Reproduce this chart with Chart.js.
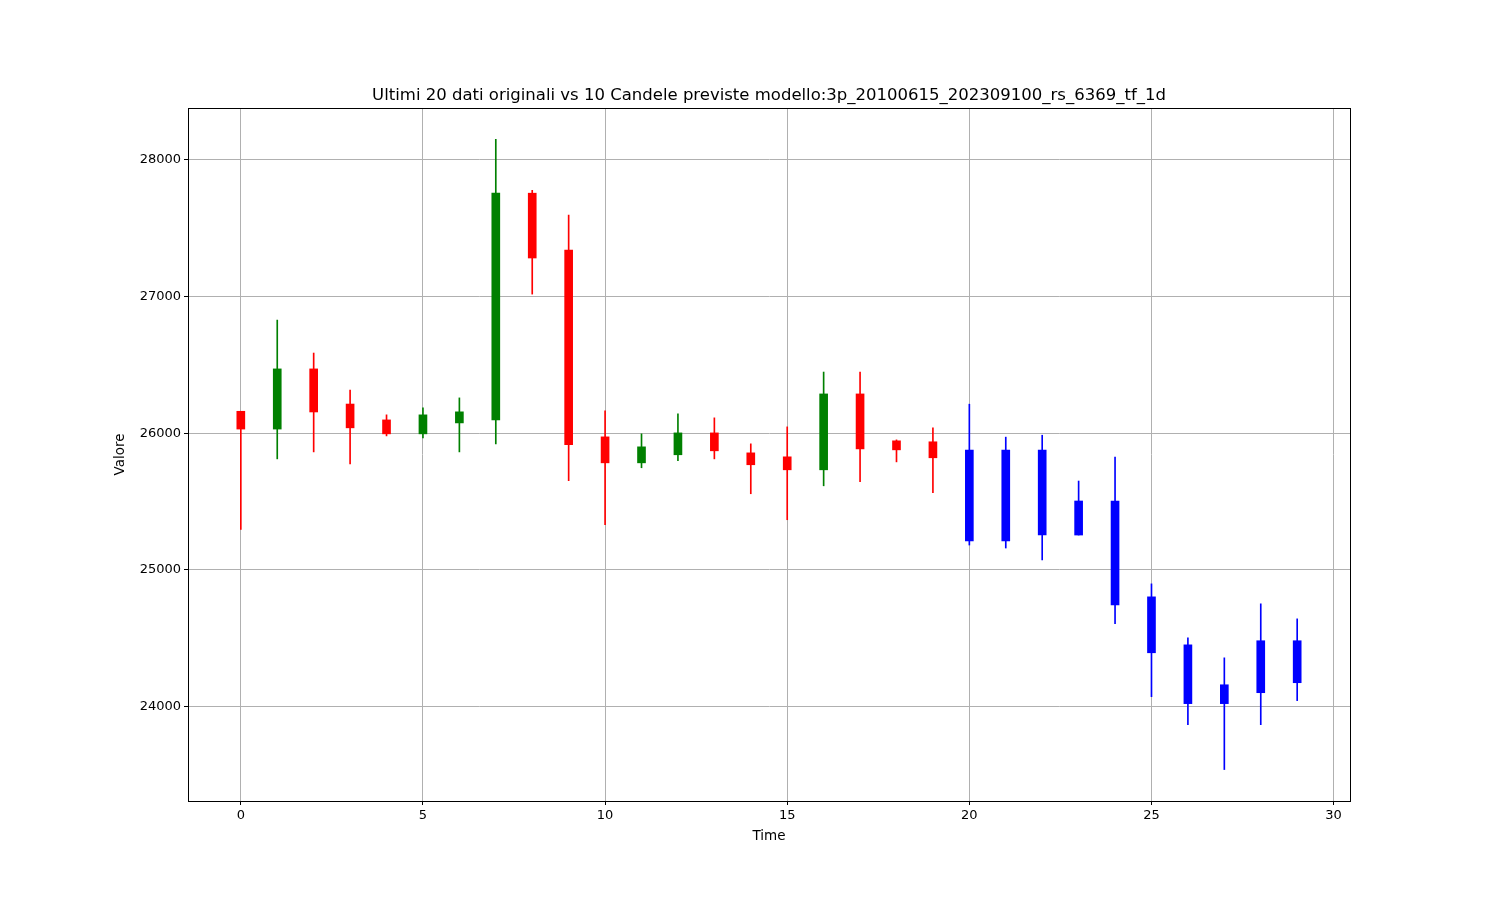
<!DOCTYPE html>
<html>
<head>
<meta charset="utf-8">
<script src="https://cdn.jsdelivr.net/npm/chart.js@4"></script>
<style>
  body { margin: 0; background: #fff; }
  #wrap { width: 1500px; height: 900px; }
</style>
</head>
<body>
<div id="wrap"><canvas id="candles" width="1500" height="900"></canvas></div>
<script>
// last 20 real candles, then 10 forecast candles
const nReal = 20;
const open  = [26160,26030,26470,26213,26097,25995,26075,26097,27755,27339,
               25973,25783,25842,26002,25856,25827,25732,26287,25944,25937,
               25876,25876,25876,25504,25504,24803,24452,24160,24482,24482];
const high  = [26160,26827,26586,26316,26134,26185,26258,28148,27776,27594,
               26163,25995,26141,26112,25922,26046,26447,26447,25951,26039,
               26212,25971,25985,25650,25825,24898,24504,24357,24752,24642];
const low   = [25296,25812,25863,25776,25980,25966,25863,25922,27017,25652,
               25331,25747,25798,25812,25557,25367,25615,25645,25790,25565,
               25182,25160,25073,25255,24606,24073,23868,23540,23868,24044];
const close = [26030,26470,26155,26039,25995,26134,26156,27755,27281,25915,
               25783,25900,26002,25871,25769,25732,26287,25885,25878,25820,
               25212,25212,25255,25255,24744,24394,24022,24022,24102,24175];

const xTicks = [0, 5, 10, 15, 20, 25, 30];
const yTicks = [24000, 25000, 26000, 27000, 28000];
const titleText = 'Ultimi 20 dati originali vs 10 Candele previste modello:3p_20100615_202309100_rs_6369_tf_1d';

const colors = open.map((o, i) => i >= nReal ? '#0000ff' : (close[i] >= o ? '#008000' : '#ff0000'));
const wicks = open.map((o, i) => ({ x: i, y: [low[i], high[i]] }));
const bodies = open.map((o, i) => ({ x: i, y: [o, close[i]] }));

// matplotlib-like box around the plot, title centred over the axes
const frame = {
  id: 'frame',
  afterDraw(chart) {
    const a = chart.chartArea, c = chart.ctx;
    c.save();
    c.strokeStyle = '#000';
    c.lineWidth = 1;
    c.strokeRect(Math.round(a.left) + 0.5, Math.round(a.top) + 0.5,
                 Math.round(a.right - a.left), Math.round(a.bottom - a.top));
    c.fillStyle = '#000';
    c.font = '16.5px "DejaVu Sans"';
    c.textAlign = 'center';
    c.textBaseline = 'alphabetic';
    c.fillText(titleText, (a.left + a.right) / 2, a.top - 8);
    c.restore();
  }
};

Chart.defaults.font.family = 'DejaVu Sans';
Chart.defaults.color = '#000';

new Chart(document.getElementById('candles'), {
  type: 'bar',
  data: {
    datasets: [
      { data: wicks, backgroundColor: colors, barThickness: 1, grouped: false },
      { data: bodies, backgroundColor: colors, barThickness: 8, grouped: false }
    ]
  },
  options: {
    responsive: false,
    animation: false,
    layout: { padding: { left: 108, right: 150, top: 108, bottom: 51 } },
    plugins: {
      legend: { display: false },
      tooltip: { enabled: false },
      title: { display: false }
    },
    scales: {
      x: {
        type: 'linear',
        offset: false,
        min: -1.45,
        max: 30.45,
        afterBuildTicks(s) { s.ticks = xTicks.map(v => ({ value: v })); },
        ticks: { autoSkip: false, maxRotation: 0, font: { size: 13 }, padding: 3, callback: v => String(v) },
        grid: { offset: false, color: '#b0b0b0', tickColor: '#000', tickLength: 4 },
        border: { color: '#000' },
        title: { display: true, text: 'Time', font: { size: 13.5 }, padding: 4 },
        afterFit(s) { s.height = 48; }
      },
      y: {
        min: 23310,
        max: 28378,
        afterBuildTicks(s) { s.ticks = yTicks.map(v => ({ value: v })); },
        ticks: { autoSkip: false, font: { size: 13 }, padding: 3, callback: v => String(v) },
        grid: { color: '#b0b0b0', tickColor: '#000', tickLength: 4 },
        border: { color: '#000' },
        title: { display: true, text: 'Valore', font: { size: 13.5 }, padding: 4 },
        afterFit(s) { s.width = 80; }
      }
    }
  },
  plugins: [frame]
});
</script>
</body>
</html>
